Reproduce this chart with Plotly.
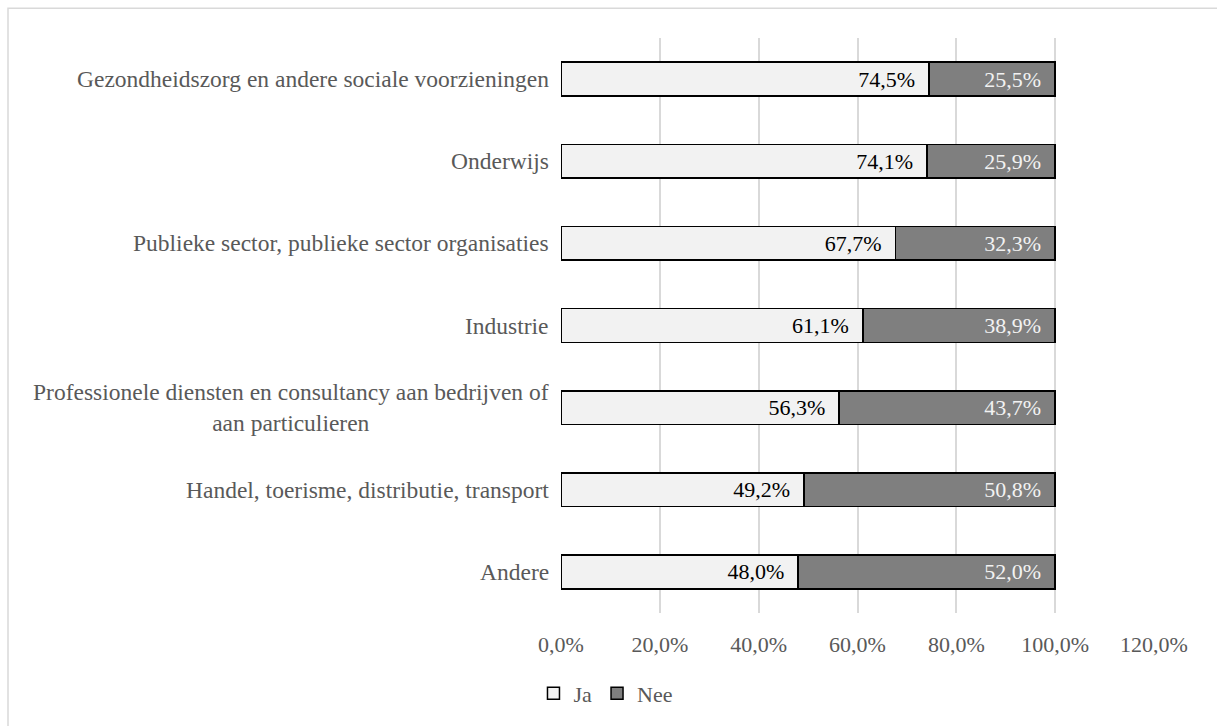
import plotly.graph_objects as go

# Sectors (top to bottom as displayed)
sectors = [
    "Gezondheidszorg en andere sociale voorzieningen",
    "Onderwijs",
    "Publieke sector, publieke sector organisaties",
    "Industrie",
    "Professionele diensten en consultancy aan bedrijven of<br>aan particulieren",
    "Handel, toerisme, distributie, transport",
    "Andere",
]
ja = [74.5, 74.1, 67.7, 61.1, 56.3, 49.2, 48.0]
nee = [25.5, 25.9, 32.3, 38.9, 43.7, 50.8, 52.0]
x_ticks = [0, 20, 40, 60, 80, 100, 120]

FONT = "Liberation Serif"
GREY_TEXT = "#595959"
PAD = "\u00a0\u00a0"


def pct(v):
    return f"{v:.1f}%".replace(".", ",")


# Plotly draws categories bottom-up, so reverse for top-down order
cats = sectors[::-1]
ja_r = ja[::-1]
nee_r = nee[::-1]

fig = go.Figure()
fig.add_trace(go.Bar(
    name="Ja", y=cats, x=ja_r, orientation="h",
    marker=dict(color="#f2f2f2", line=dict(color="#000000", width=1.5)),
    text=[pct(v) + PAD for v in ja_r], textposition="inside", insidetextanchor="end",
    textfont=dict(family=FONT, size=22, color="#000000"),
    width=0.41,
))
fig.add_trace(go.Bar(
    name="Nee", y=cats, x=nee_r, orientation="h",
    marker=dict(color="#7f7f7f", line=dict(color="#000000", width=1.5)),
    text=[pct(v) + PAD for v in nee_r], textposition="inside", insidetextanchor="end",
    textfont=dict(family=FONT, size=22, color="#f2f2f2"),
    width=0.41,
))

# Category labels, right-aligned against the plot with centred line wrapping
for c in cats:
    fig.add_annotation(
        x=0, xref="paper", y=c, yref="y", text=c, showarrow=False,
        xanchor="right", yanchor="middle", align="center", xshift=-10,
        font=dict(family=FONT, size=23.5, color=GREY_TEXT),
    )

fig.update_layout(
    barmode="stack",
    width=1217, height=726,
    margin=dict(l=561, r=63, t=38, b=110),
    paper_bgcolor="white", plot_bgcolor="white",
    font=dict(family=FONT, color=GREY_TEXT),
    uniformtext=dict(mode=False),
    xaxis=dict(
        range=[0, 120], tickvals=x_ticks,
        ticktext=[pct(v) for v in x_ticks],
        showgrid=True, gridcolor="#d9d9d9", gridwidth=1.5,
        zeroline=False, showline=False,
        tickfont=dict(family=FONT, size=22, color=GREY_TEXT),
        ticks="", ticklabelstandoff=16,
    ),
    yaxis=dict(
        categoryorder="array", categoryarray=cats,
        showticklabels=False, showgrid=False, zeroline=False,
        range=[-0.5, len(cats) - 0.5],
    ),
    legend=dict(
        orientation="h", traceorder="normal",
        x=0.075, xanchor="center", y=-0.14, yanchor="middle",
        font=dict(family=FONT, size=22, color=GREY_TEXT),
        itemwidth=30, tracegroupgap=0,
    ),
    shapes=[dict(
        type="rect", xref="paper", yref="paper",
        x0=-553 / 593, x1=1.2, y0=-0.3, y1=1 + 30 / 578,
        line=dict(color="#d9d9d9", width=1.5), fillcolor="rgba(0,0,0,0)",
        layer="below",
    )],
)

fig.write_html("out.html")
